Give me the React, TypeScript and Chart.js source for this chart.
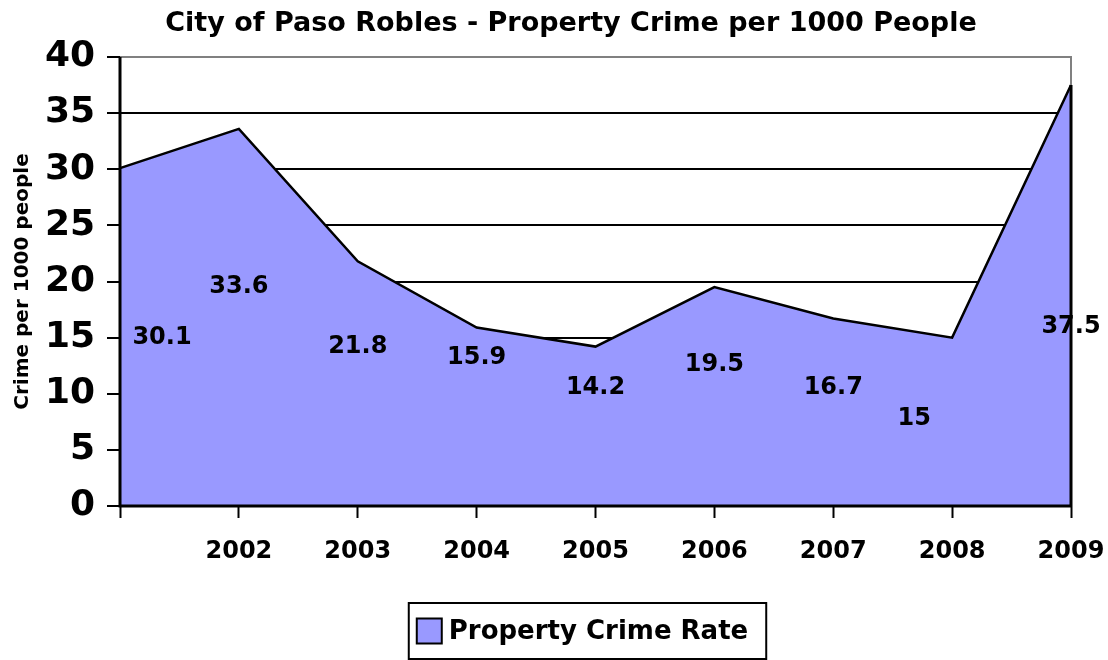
import React, { useEffect, useRef } from "react";
import { Chart, registerables } from "chart.js";

Chart.register(...registerables);

const categories = ["", "2002", "2003", "2004", "2005", "2006", "2007", "2008", "2009"];
const crimeRate = [30.1, 33.6, 21.8, 15.9, 14.2, 19.5, 16.7, 15, 37.5];
const yTickValues = [0, 5, 10, 15, 20, 25, 30, 35, 40];
// Where the reference places each value label (in data units) and its sideways shift
const labelLevels = [15.0, 19.5, 14.2, 13.2, 10.5, 12.6, 10.5, 7.8, 16.0];
const labelShift = [42, 0, 0, 0, 0, 0, 0, -38, 0];

const TITLE = "City of Paso Robles - Property Crime per 1000 People";
const SERIES_NAME = "Property Crime Rate";
const FONT = "'DejaVu Sans', 'Liberation Sans', Arial, sans-serif";
const FILL = "#9999FF";

const overlayPlugin = {
  id: "overlay",
  afterDatasetsDraw(chart: any) {
    const { ctx, chartArea } = chart;
    const xs = chart.scales.x;
    const ys = chart.scales.y;
    ctx.save();
    ctx.strokeStyle = "#808080";
    ctx.lineWidth = 2;
    ctx.beginPath();
    ctx.moveTo(chartArea.left, chartArea.top);
    ctx.lineTo(chartArea.right, chartArea.top);
    ctx.lineTo(chartArea.right, chartArea.bottom);
    ctx.stroke();
    const last = crimeRate.length - 1;
    ctx.strokeStyle = "#000";
    ctx.lineWidth = 3;
    ctx.beginPath();
    ctx.moveTo(xs.getPixelForValue(last), ys.getPixelForValue(crimeRate[last]));
    ctx.lineTo(xs.getPixelForValue(last), ys.getPixelForValue(0));
    ctx.stroke();
    ctx.beginPath();
    ctx.moveTo(chartArea.left, chartArea.top);
    ctx.lineTo(chartArea.left, chartArea.bottom);
    ctx.lineTo(chartArea.right, chartArea.bottom);
    ctx.stroke();
    ctx.fillStyle = "#000";
    ctx.font = `bold 24px ${FONT}`;
    ctx.textAlign = "center";
    ctx.textBaseline = "middle";
    crimeRate.forEach((v, i) => {
      const x = xs.getPixelForValue(i) + labelShift[i];
      const y = ys.getPixelForValue(labelLevels[i]);
      ctx.fillText(String(v), x, y);
    });
    ctx.restore();
  },
  afterDraw(chart: any) {
    const { ctx, chartArea } = chart;
    ctx.save();
    // title
    ctx.fillStyle = "#000";
    ctx.font = `bold 27px ${FONT}`;
    ctx.textAlign = "center";
    ctx.textBaseline = "middle";
    ctx.fillText(TITLE, 571, 24);
    // legend
    ctx.font = `bold 26px ${FONT}`;
    const tw = ctx.measureText(SERIES_NAME).width;
    const boxW = 8 + 25 + 7 + tw + 18;
    const boxH = 56;
    const cx = (chartArea.left + chartArea.right) / 2 - 8;
    const left = cx - boxW / 2;
    const top = chartArea.bottom + chart.scales.x.height;
    ctx.strokeStyle = "#000";
    ctx.lineWidth = 2;
    ctx.strokeRect(left, top, boxW, boxH);
    ctx.fillStyle = FILL;
    ctx.fillRect(left + 8, top + boxH / 2 - 12.5, 25, 25);
    ctx.strokeRect(left + 8, top + boxH / 2 - 12.5, 25, 25);
    ctx.fillStyle = "#000";
    ctx.textAlign = "left";
    ctx.fillText(SERIES_NAME, left + 40, top + boxH / 2 + 1);
    ctx.restore();
  },
};

export default function App() {
  const ref = useRef<HTMLCanvasElement | null>(null);
  useEffect(() => {
    document.body.style.margin = "0";
    const chart = new Chart(ref.current as HTMLCanvasElement, {
      type: "line",
      data: {
        labels: categories,
        datasets: [
          {
            label: SERIES_NAME,
            data: crimeRate,
            borderColor: "#000",
            borderWidth: 2.5,
            backgroundColor: FILL,
            fill: "origin",
            pointRadius: 0,
            tension: 0,
          },
        ],
      },
      options: {
        animation: false,
        responsive: true,
        maintainAspectRatio: false,
        layout: { padding: { left: 0, right: 37, top: 57, bottom: 57 } },
        plugins: {
          title: { display: false },
          legend: { display: false },
          tooltip: { enabled: false },
        },
        scales: {
          x: {
            offset: false,
            afterFit(scale: any) {
              scale.paddingLeft = 0;
              scale.paddingRight = 0;
              scale.height = 97;
            },
            grid: {
              drawOnChartArea: false,
              drawTicks: true,
              tickLength: 12,
              tickColor: "#000",
              tickWidth: 2,
            },
            border: { display: false },
            ticks: {
              color: "#000",
              font: { family: FONT, size: 24, weight: "bold" },
              padding: 19,
              maxRotation: 0,
              autoSkip: false,
            },
          },
          y: {
            min: 0,
            max: 40,
            afterBuildTicks(scale: any) {
              scale.ticks = yTickValues.map((v) => ({ value: v }));
            },
            afterFit(scale: any) {
              scale.width = 120;
              scale.paddingTop = 0;
              scale.paddingBottom = 0;
            },
            grid: {
              color: (c: any) => (c.tick && (c.tick.value === 40 || c.tick.value === 0) ? "rgba(0,0,0,0)" : "#000"),
              lineWidth: 2,
              drawTicks: true,
              tickLength: 13,
              tickColor: "#000",
              tickWidth: 2,
            },
            border: { display: false },
            ticks: {
              color: "#000",
              font: { family: FONT, size: 36, weight: "bold" },
              padding: 12,
            },
            title: {
              display: true,
              text: "Crime per 1000 people",
              color: "#000",
              font: { family: FONT, size: 20, weight: "bold" },
              padding: { top: 11, bottom: 0 },
            },
          },
        },
      },
      plugins: [overlayPlugin],
    });
    return () => chart.destroy();
  }, []);
  return (
    <div style={{ width: 1108, height: 660, position: "relative" }}>
      <canvas ref={ref} />
    </div>
  );
}
